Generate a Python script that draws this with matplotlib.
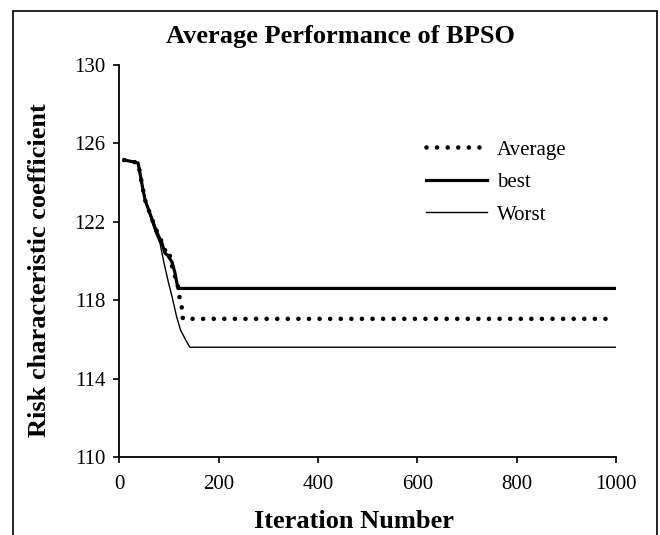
import matplotlib.pyplot as plt
from matplotlib.patches import Rectangle

# values
avg_iter = [10, 20, 30, 38, 45, 52, 62, 72, 82, 88, 93, 100, 103, 109, 117, 120, 126, 128, 1000]
avg_val = [125.15, 125.1, 125.05, 125.0, 124.0, 123.1, 122.4, 121.7, 121.2, 120.8, 120.5, 120.55,
           120.1, 119.4, 118.9, 118.3, 117.6, 117.05, 117.05]

best_iter = [10, 20, 30, 38, 45, 52, 62, 72, 82, 86, 92, 97, 106, 112, 118, 1000]
best_val = [125.15, 125.1, 125.05, 125.0, 124.0, 123.1, 122.4, 121.7, 121.1, 120.9, 120.4, 120.3,
            119.95, 119.4, 118.6, 118.6]

worst_iter = [10, 20, 30, 38, 45, 55, 72, 82, 90, 99, 106, 115, 123, 133, 142, 1000]
worst_val = [125.15, 125.1, 125.05, 125.0, 123.9, 122.9, 121.5, 120.9, 119.9, 118.9, 118.2, 117.2,
             116.5, 116.0, 115.6, 115.6]

x_ticks = [0, 200, 400, 600, 800, 1000]
y_ticks = [110, 114, 118, 122, 126, 130]

plt.rcParams['font.family'] = ['Liberation Serif', 'DejaVu Serif']

fig = plt.figure(figsize=(6.6, 5.35), dpi=100)
ax = fig.add_axes([119.3 / 660, 1 - 457 / 535, (616 - 119.3) / 660, (457 - 65) / 535])

ax.plot(avg_iter, avg_val, color='black', lw=3.3, linestyle=(0, (0.01, 2.3)),
        dash_capstyle='round', label='Average')
ax.plot(best_iter, best_val, color='black', lw=2.3, label='best')
ax.plot(worst_iter, worst_val, color='black', lw=1.0, label='Worst')

ax.set_xlim(0, 1000)
ax.set_ylim(110, 130)
ax.set_xticks(x_ticks)
ax.set_yticks(y_ticks)
ax.tick_params(direction='out', length=4, width=1.2, labelsize=15, pad=6, color='black')
ax.tick_params(axis='x', pad=9)
ax.spines['top'].set_visible(False)
ax.spines['right'].set_visible(False)
ax.spines['left'].set_linewidth(1.3)
ax.spines['bottom'].set_linewidth(1.3)

ax.legend(loc='upper left', bbox_to_anchor=(0.58, 0.856), frameon=False, fontsize=15,
          handlelength=2.9, handletextpad=0.5, labelspacing=0.62)

fig.text(340 / 660, 1 - 37 / 535, 'Average Performance of BPSO', ha='center', va='center',
         fontsize=19, fontweight='bold')
fig.text(354 / 660, 1 - 521 / 535, 'Iteration Number', ha='center', va='center',
         fontsize=19, fontweight='bold')
fig.text(40 / 660, 1 - 270 / 535, 'Risk characteristic coefficient', ha='center', va='center',
         rotation=90, fontsize=19, fontweight='bold')

# chart border
fig.patches.append(Rectangle((13 / 660, -0.05), (657 - 13) / 660, 1.05 - 11 / 535,
                             transform=fig.transFigure, fill=False, edgecolor='black', lw=1.2))

fig.savefig('out.png', dpi=100)
